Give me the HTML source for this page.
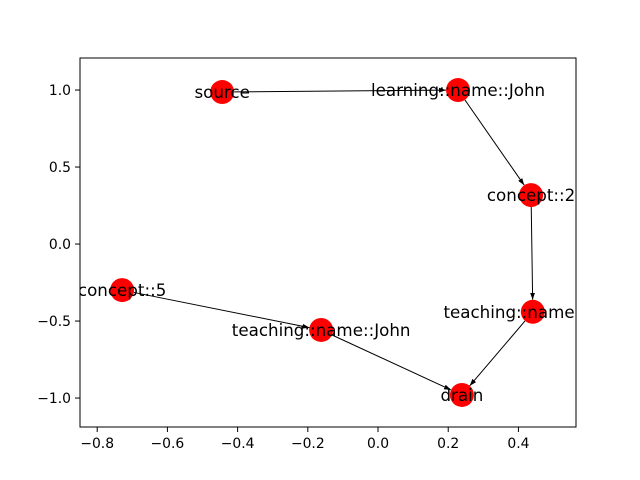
<!DOCTYPE html>
<html><head><meta charset="utf-8"><style>body{margin:0;background:#fff}svg{display:block;font-family:"DejaVu Sans","Liberation Sans",sans-serif}</style></head>
<body>
<svg id="chart" width="640" height="480" viewBox="0 0 640 480" xmlns="http://www.w3.org/2000/svg">
<defs>
<clipPath id="axclip"><rect x="80" y="58" width="496" height="369"/></clipPath>
<marker id="arrow" viewBox="0 0 10 10" refX="10" refY="5" markerWidth="7" markerHeight="7" orient="auto-start-reverse"><path d="M0,1.5 L10,5 L0,8.5 z" fill="#000"/></marker>
</defs>
<rect x="80" y="58" width="496" height="369" fill="#fff" stroke="#000" stroke-width="1"/>
<g id="xticks"></g><g id="yticks"></g>
<g id="edges"></g><g id="nodes" clip-path="url(#axclip)"></g><g id="labels" clip-path="url(#axclip)"></g>
</svg>
<script>
const nodeNames = ["source","learning::name::John","concept::2","teaching::name::John","drain","teaching::name::John","concept::5"];
const nodeX = [-0.444, 0.228, 0.436, 0.441, 0.239, -0.162, -0.729];
const nodeY = [0.987, 1.0, 0.318, -0.44, -0.98, -0.558, -0.299];
const edgeFrom = [0, 1, 2, 3, 6, 5];
const edgeTo = [1, 2, 3, 4, 5, 4];
const xTicks = [-0.8, -0.6, -0.4, -0.2, 0.0, 0.2, 0.4];
const xTickLabels = ["\u22120.8","\u22120.6","\u22120.4","\u22120.2","0.0","0.2","0.4"];
const yTicks = [1.0, 0.5, 0.0, -0.5, -1.0];
const yTickLabels = ["1.0","0.5","0.0","\u22120.5","\u22121.0"];
const X0=80,X1=576,Y0=58,Y1=427,xmin=-0.849,xmax=0.564,ymin=-1.188,ymax=1.208;
const sx=v=>X0+(v-xmin)/(xmax-xmin)*(X1-X0);
const sy=v=>Y1-(v-ymin)/(ymax-ymin)*(Y1-Y0);
const NS="http://www.w3.org/2000/svg";
function mk(tag,attrs,parent){const e=document.createElementNS(NS,tag);for(const k in attrs)e.setAttribute(k,attrs[k]);document.getElementById(parent).appendChild(e);return e;}
xTicks.forEach((t,i)=>{const x=sx(t);
 const l=mk("line",{x1:x,x2:x,y1:Y1,y2:Y1+5,stroke:"#000"},"xticks");
 
 
 const tx=mk("text",{x:x,y:Y1+21,"text-anchor":"middle","font-size":13.9},"xticks");tx.textContent=xTickLabels[i];
 
 });
yTicks.forEach((t,i)=>{const y=sy(t);
 const l=mk("line",{x1:X0-5,x2:X0,y1:y,y2:y,stroke:"#000"},"yticks");
 
 
 const tx=mk("text",{x:X0-9,y:y+5,"text-anchor":"end","font-size":13.9},"yticks");tx.textContent=yTickLabels[i];
 
 });
const R=12;
edgeFrom.forEach((f,i)=>{const t=edgeTo[i];
 const x1=sx(nodeX[f]),y1=sy(nodeY[f]),x2=sx(nodeX[t]),y2=sy(nodeY[t]);
 const d=Math.hypot(x2-x1,y2-y1),ux=(x2-x1)/d,uy=(y2-y1)/d;
 const e=mk("line",{x1:x1+ux*R,y1:y1+uy*R,x2:x2-ux*R,y2:y2-uy*R,stroke:"#000","stroke-width":1,"marker-end":"url(#arrow)"},"edges");
 
 });
nodeNames.forEach((n,i)=>{const x=sx(nodeX[i]),y=sy(nodeY[i]);
 const c=mk("circle",{cx:x,cy:y,r:R,fill:"#ff0000"},"nodes");
 
 
 const tx=mk("text",{x:x,y:y+6,"text-anchor":"middle","font-size":16.7},"labels");tx.textContent=n;
 
 });
</script>
</body></html>
